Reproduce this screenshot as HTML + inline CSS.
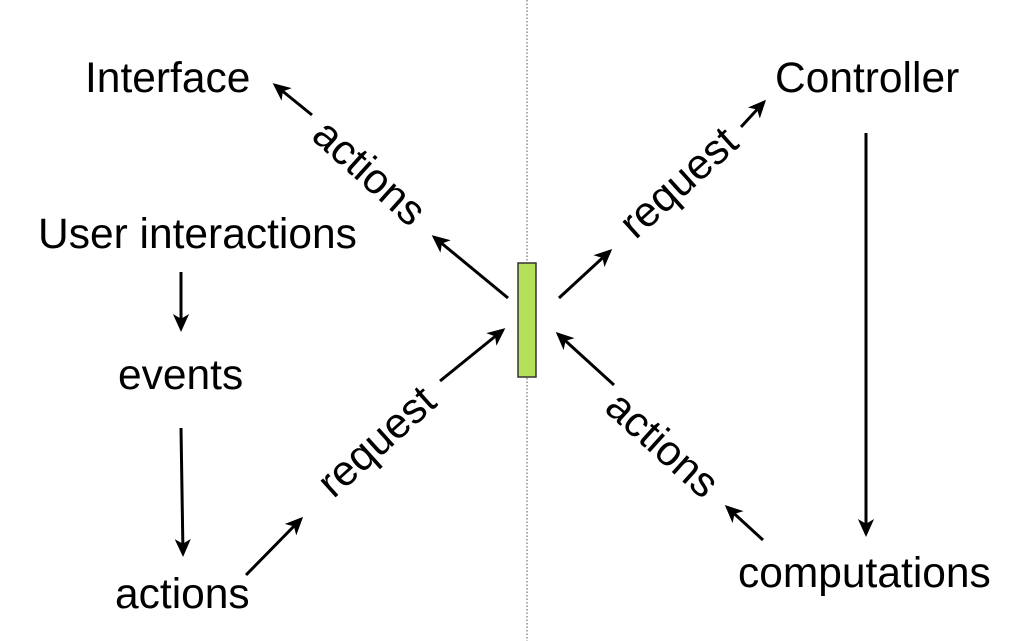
<!DOCTYPE html>
<html><head><meta charset="utf-8"><style>
html,body{margin:0;padding:0;background:#fff;}
svg{display:block;}
text{font-family:"Liberation Sans",sans-serif;font-size:42.5px;fill:#000;}
</style></head><body>
<svg width="1032" height="641" viewBox="0 0 1032 641" xmlns="http://www.w3.org/2000/svg">
<defs>
<marker id="a" markerWidth="6" markerHeight="6" refX="5" refY="3" orient="auto" markerUnits="strokeWidth">
<path d="M0,0.3 L6,3 L0,5.7 L1.6,3 Z" fill="#000"/>
</marker>
</defs>
<line x1="527" y1="0" x2="527" y2="641" stroke="#555" stroke-width="1" stroke-dasharray="1.5,2"/>
<rect x="518" y="263" width="18" height="114" fill="#b5e05a" stroke="#333" stroke-width="1.5"/>
<g stroke="#000" stroke-width="3" fill="none" marker-end="url(#a)">
<line x1="508" y1="298" x2="434" y2="237"/>
<line x1="559" y1="298" x2="610" y2="251"/>
<line x1="440" y1="381" x2="503" y2="330"/>
<line x1="614" y1="385" x2="558" y2="334"/>
<line x1="312" y1="115" x2="275" y2="85"/>
<line x1="741" y1="127" x2="764" y2="102"/>
<line x1="181" y1="272" x2="181" y2="329"/>
<line x1="181" y1="428" x2="183" y2="554"/>
<line x1="246" y1="575" x2="301" y2="519"/>
<line x1="763" y1="540" x2="727" y2="507"/>
<line x1="866" y1="133" x2="866" y2="534"/>
</g>
<text x="85" y="92">Interface</text>
<text x="775" y="92">Controller</text>
<text x="38" y="248">User interactions</text>
<text x="118" y="389">events</text>
<text x="115" y="608">actions</text>
<text x="738" y="587">computations</text>
<text x="0" y="0" text-anchor="middle" transform="translate(360,183) rotate(42)">actions</text>
<text x="0" y="0" text-anchor="middle" transform="translate(386,452) rotate(-42)">request</text>
<text x="0" y="0" text-anchor="middle" transform="translate(688,193) rotate(-42)">request</text>
<text x="0" y="0" text-anchor="middle" transform="translate(653,455) rotate(42)">actions</text>
</svg>
</body></html>
